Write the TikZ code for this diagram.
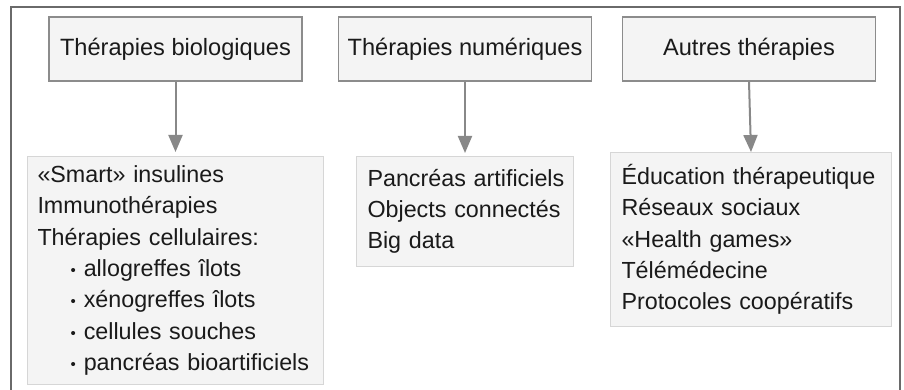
\documentclass[tikz,border=0pt]{standalone}
\usepackage{fontspec}
\setmainfont{Liberation Sans}
\usetikzlibrary{arrows.meta}
\definecolor{boxfill}{HTML}{F4F4F4}
\definecolor{headedge}{HTML}{8C8C8C}
\definecolor{listedge}{HTML}{D6D6D6}
\definecolor{framecol}{HTML}{6A6A6A}
\definecolor{arrowcol}{HTML}{888888}
\definecolor{inkcol}{HTML}{1A1A1A}
% one unbreakable line of a list
\newcommand{\listline}[1]{\mbox{#1}}
\newcommand{\smallbullet}{\raisebox{1pt}{\fontsize{15}{15}\selectfont •}}
\newcommand{\subitemline}[1]{\mbox{\hspace*{33pt}\smallbullet\hspace{8pt}#1}}
\begin{document}
\begin{tikzpicture}[x=1pt,y=-1pt,
  headbox/.style={draw=headedge, line width=1.1pt, fill=boxfill,
    minimum width=253pt, minimum height=64pt, inner sep=0pt,
    text=inkcol, font=\fontsize{23.6}{28}\selectfont},
  listbox/.style={draw=listedge, line width=1pt, fill=boxfill,
    anchor=north west, inner xsep=11pt, inner ysep=0pt, align=left,
    text=inkcol, font=\fontsize{23.3}{31.3}\selectfont},
  link/.style={draw=arrowcol, line width=2pt,
    -{Triangle[width=14pt,length=17pt]}}]
  \useasboundingbox (0,0) rectangle (904,390);
  % open frame around the whole chart
  \draw[framecol, line width=1.6pt] (11,392) -- (11,7) -- (900,7) -- (900,392);

  % category headers
  \node[headbox] (bio) at (175.5,49) {Thérapies biologiques};
  \node[headbox] (num) at (465,49) {Thérapies numériques};
  \node[headbox] (aut) at (749,49) {Autres thérapies};

  % lists under each header
  \node[listbox, inner xsep=10pt, text width=276pt, minimum height=228pt]
    (bioList) at (27,156) {\listline{«Smart» insulines}\\
    \listline{Immunothérapies}\\
    \listline{Thérapies cellulaires:}\\
    \subitemline{allogreffes îlots}\\
    \subitemline{xénogreffes îlots}\\
    \subitemline{cellules souches}\\
    \subitemline{pancréas bioartificiels}};
  \node[listbox, text width=195pt, minimum height=110pt]
    (numList) at (356,156) {\listline{Pancréas artificiels}\\
    \listline{Objects connectés}\\
    \listline{Big data}};
  \node[listbox, text width=259pt, minimum height=174pt]
    (autList) at (610,152) {\listline{Éducation thérapeutique}\\
    \listline{Réseaux sociaux}\\
    \listline{«Health games»}\\
    \listline{Télémédecine}\\
    \listline{Protocoles coopératifs}};

  % connectors
  \draw[link, shorten >=4pt] (bio.south) -- (bioList.north);
  \draw[link, shorten >=3pt] (num.south) -- (numList.north);
  \draw[link] (aut.south) -- (autList.north);
\end{tikzpicture}
\end{document}
